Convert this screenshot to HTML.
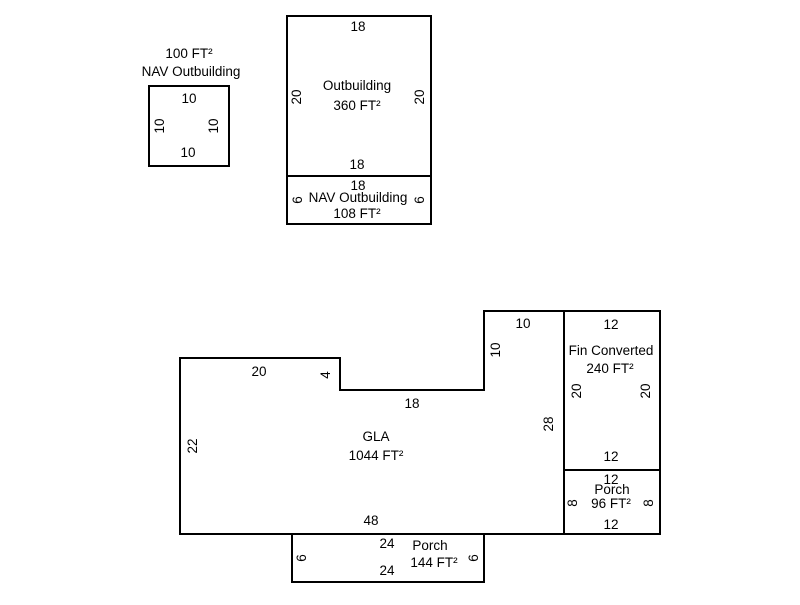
<!DOCTYPE html>
<html><head><style>
html,body{margin:0;padding:0;background:#fff;}
svg text{font-family:"Liberation Sans",Arial,sans-serif;font-size:13.5px;fill:#000;text-anchor:middle;}
</style></head><body>
<svg width="800" height="600" xmlns="http://www.w3.org/2000/svg">
<g fill="none" stroke="#000" stroke-width="2">
<rect x="149" y="86" width="80" height="80"/>
<rect x="287" y="16" width="144" height="160"/>
<rect x="287" y="176" width="144" height="48"/>
<polygon points="180,358 340,358 340,390 484,390 484,311 564,311 564,534 180,534"/>
<rect x="564" y="311" width="96" height="159"/>
<rect x="564" y="470" width="96" height="64"/>
<rect x="292" y="534" width="192" height="48"/>
</g>
<text x="189" y="58">100 FT²</text>
<text x="191" y="76">NAV Outbuilding</text>
<text x="189" y="103">10</text>
<text x="188" y="157">10</text>
<text transform="translate(164,126) rotate(-90)">10</text>
<text transform="translate(218,126) rotate(-90)">10</text>

<text x="358" y="31">18</text>
<text x="357" y="90">Outbuilding</text>
<text x="357" y="110">360 FT²</text>
<text x="357" y="169">18</text>
<text transform="translate(301,97) rotate(-90)">20</text>
<text transform="translate(424,97) rotate(-90)">20</text>
<text x="358" y="190">18</text>
<text x="358" y="202">NAV Outbuilding</text>
<text x="357" y="218">108 FT²</text>
<text transform="translate(302,200) rotate(-90)">6</text>
<text transform="translate(424,200) rotate(-90)">6</text>

<text x="259" y="376">20</text>
<text transform="translate(330,375) rotate(-90)">4</text>
<text x="412" y="408">18</text>
<text x="523" y="328">10</text>
<text transform="translate(500,350) rotate(-90)">10</text>
<text x="376" y="441">GLA</text>
<text x="376" y="460">1044 FT²</text>
<text transform="translate(197,446) rotate(-90)">22</text>
<text transform="translate(553,424) rotate(-90)">28</text>
<text x="371" y="525">48</text>

<text x="611" y="329">12</text>
<text x="611" y="355">Fin Converted</text>
<text x="610" y="373">240 FT²</text>
<text transform="translate(581,391) rotate(-90)">20</text>
<text transform="translate(650,391) rotate(-90)">20</text>
<text x="611" y="461">12</text>
<text x="611" y="484">12</text>
<text x="612" y="494">Porch</text>
<text x="611" y="508">96 FT²</text>
<text x="611" y="529">12</text>
<text transform="translate(577,503) rotate(-90)">8</text>
<text transform="translate(653,503) rotate(-90)">8</text>

<text x="387" y="548">24</text>
<text x="387" y="575">24</text>
<text x="430" y="550">Porch</text>
<text x="434" y="567">144 FT²</text>
<text transform="translate(306,558) rotate(-90)">6</text>
<text transform="translate(478,558) rotate(-90)">6</text>
</svg>
</body></html>
